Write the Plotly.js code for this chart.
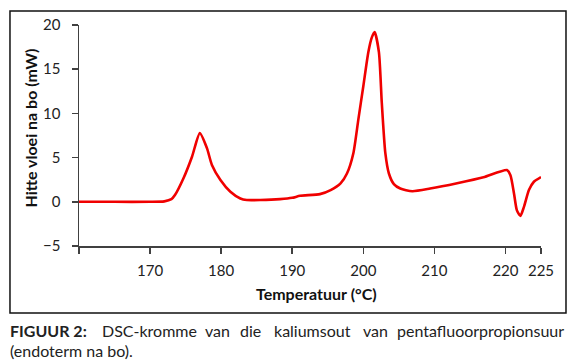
<!DOCTYPE html>
<html>
<head>
<meta charset="utf-8">
<script src="https://cdn.plot.ly/plotly-3.0.1.min.js"></script>
<style>html,body{margin:0;padding:0;background:#fff;}#chart{width:574px;height:364px;}</style>
</head>
<body>
<div id="chart"></div>
<script>
// Temperature (°C) and heat flow (mW)
var temperature = [160, 165, 170, 172, 173, 173.5, 174.7, 175.9, 177.0, 178.0, 178.7, 179.9, 181.3, 182.7, 183.6, 185.5, 188.3, 190, 191.1, 193.9, 195.4, 196.8, 197.7, 198.6, 199.3, 200.0, 200.7, 201.2, 201.6, 202.2, 202.6, 203.1, 203.6, 204.3, 205.2, 206.9, 209.4, 213.2, 216.9, 220.2, 220.7, 221.2, 221.6, 222.1, 222.6, 223.3, 224.0, 225.0];
var heatFlow = [0, 0, 0, 0.05, 0.3, 0.76, 2.66, 5.1, 7.77, 6.07, 4.17, 2.47, 1.14, 0.38, 0.2, 0.2, 0.3, 0.45, 0.68, 0.87, 1.33, 2.09, 3.2, 5.5, 9.3, 13.07, 16.9, 18.6, 19.2, 16.9, 11.2, 5.5, 3.2, 2.0, 1.5, 1.2, 1.5, 2.1, 2.77, 3.6, 3.0, 0.95, -0.94, -1.6, -0.57, 1.33, 2.27, 2.8];

var xTickVals = [160, 170, 180, 190, 200, 210, 220, 225];
var xTickText = ['', '170', '180', '190', '200', '210', '220', '225'];
var yTickVals = [-5, 0, 5, 10, 15, 20];

var xTitle = 'Temperatuur (°C)';
var yTitle = 'Hitte vloei na bo (mW)';
var captionBold = 'FIGUUR 2:';
var captionWords = ['DSC-kromme', 'van', 'die', 'kaliumsout', 'van', 'pentafluoorpropionsuur'];
var captionLine2 = '(endoterm na bo).';

var FONT = 'Lato, "Open Sans", sans-serif';
var AX = '#404040';

var trace = {
  x: temperature, y: heatFlow, type: 'scatter', mode: 'lines',
  line: {color: '#f00000', width: 2.6, shape: 'spline', smoothing: 0.6},
  hoverinfo: 'skip'
};

// caption word positions (paper coords) to mimic justified text
var wordX = [0.0455, 0.2684, 0.3442, 0.4177, 0.6104, 1.0541];
var line1Y = -0.3846, line2Y = -0.4706;
var annotations = [
  {text: '<b>' + yTitle + '</b>', xref: 'paper', yref: 'paper', x: -0.1039, y: 0.536, textangle: -90,
   showarrow: false, xanchor: 'center', yanchor: 'middle', font: {family: FONT, size: 16, color: '#111'}},
  {text: '<b>' + xTitle + '</b>', xref: 'paper', yref: 'paper', x: 0.513, y: -0.213,
   showarrow: false, xanchor: 'center', yanchor: 'middle', font: {family: FONT, size: 16, color: '#111'}},
  {text: '<b>' + captionBold + '</b>', xref: 'paper', yref: 'paper', x: -0.153, y: line1Y,
   showarrow: false, xanchor: 'left', yanchor: 'middle', font: {family: FONT, size: 16, color: '#222'}},
  {text: captionLine2, xref: 'paper', yref: 'paper', x: -0.153, y: line2Y,
   showarrow: false, xanchor: 'left', yanchor: 'middle', font: {family: FONT, size: 16, color: '#222'}}
];
captionWords.forEach(function (w, i) {
  annotations.push({text: w, xref: 'paper', yref: 'paper', x: wordX[i], y: line1Y,
    showarrow: false, xanchor: i === captionWords.length - 1 ? 'right' : 'left', yanchor: 'middle',
    font: {family: FONT, size: 16, color: '#222'}});
});

var layout = {
  width: 574, height: 364,
  margin: {l: 79, r: 33, t: 25, b: 118, pad: 0},
  paper_bgcolor: '#fff', plot_bgcolor: '#fff',
  showlegend: false,
  font: {family: FONT, size: 15, color: '#222'},
  xaxis: {
    range: [160, 225], tickmode: 'array', tickvals: xTickVals, ticktext: xTickText,
    showgrid: false, zeroline: false, showline: true, linecolor: AX, linewidth: 1.5,
    ticks: 'outside', ticklen: 6, tickwidth: 1.5, tickcolor: AX, ticklabelstandoff: 4,
    tickfont: {family: FONT, size: 15, color: '#222'}, fixedrange: true
  },
  yaxis: {
    range: [-5, 20], tickmode: 'array', tickvals: yTickVals,
    showgrid: false, zeroline: false, showline: true, linecolor: AX, linewidth: 1.5,
    ticks: 'outside', ticklen: 6, tickwidth: 1.5, tickcolor: AX, ticklabelstandoff: 8,
    tickfont: {family: FONT, size: 15, color: '#222'}, fixedrange: true
  },
  shapes: [
    {type: 'rect', xref: 'paper', yref: 'paper', x0: -0.1494, x1: 1.0541, y0: -0.3032, y1: 1.0633,
     line: {color: '#111', width: 1.5}, fillcolor: 'rgba(0,0,0,0)'}
  ],
  annotations: annotations
};

Plotly.newPlot('chart', [trace], layout, {staticPlot: true, displayModeBar: false});
</script>
</body>
</html>
